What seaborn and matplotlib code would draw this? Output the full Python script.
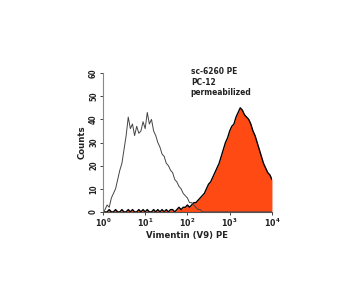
import numpy as np
import matplotlib
matplotlib.use("Agg")
import matplotlib.pyplot as plt
import seaborn as sns
import pandas as pd
from matplotlib import font_manager

# log10 channel positions (decades)
decades = [round(i * 0.05, 2) for i in range(81)]

# isotype control (open histogram)
control_counts = [0, 1, 3, 2, 6, 8, 10, 14, 18, 21,
                  27, 33, 41, 36, 38, 33, 37, 34, 35, 39,
                  36, 43, 38, 40, 35, 33, 30, 28, 25, 24,
                  21, 20, 18, 17, 14, 13, 11, 10, 8, 7,
                  6, 4, 4, 3, 2, 1, 1, 0, 0, 0,
                  0, 0, 0, 0, 0, 0, 0, 0, 0, 0,
                  0, 0, 0, 0, 0, 0, 0, 0, 0, 0,
                  0, 0, 0, 0, 0, 0, 0, 0, 0, 0, 0]

# sc-6260 PE stained (filled histogram)
stained_counts = [0, 0, 0, 1, 0, 0, 1, 0, 0, 1,
                  0, 0, 1, 0, 1, 0, 0, 1, 0, 1,
                  0, 1, 0, 0, 1, 0, 1, 0, 1, 0,
                  1, 0, 1, 1, 0, 1, 2, 1, 2, 2,
                  3, 2, 3, 4, 4, 5, 6, 7, 8, 10,
                  12, 13, 15, 17, 19, 21, 24, 27, 30, 32,
                  35, 37, 38, 41, 43, 45, 44, 42, 41, 40,
                  38, 35, 33, 30, 27, 24, 21, 19, 17, 16, 14]

x_ticks = [1, 10, 100, 1000, 10000]
x_tick_labels = ["10$^0$", "10$^1$", "10$^2$", "10$^3$", "10$^4$"]
y_ticks = [0, 10, 20, 30, 40, 50, 60]

sns.set_theme(style="white")
names = {f.name for f in font_manager.fontManager.ttflist}
fam = 'Liberation Sans Narrow' if 'Liberation Sans Narrow' in names else 'DejaVu Sans'
plt.rcParams['font.family'] = [fam, 'DejaVu Sans']
plt.rcParams['font.stretch'] = 'condensed'
plt.rcParams['mathtext.fontset'] = 'custom'
plt.rcParams['mathtext.rm'] = fam + ':bold'
plt.rcParams['mathtext.default'] = 'rm'

df = pd.DataFrame({"x": [10 ** d for d in decades],
                   "control": control_counts,
                   "stained": stained_counts})

fig = plt.figure(figsize=(3.5, 3.01), dpi=100)
ax = fig.add_axes([0.294, 0.296, 0.483, 0.461])

ax.fill_between(df["x"], df["stained"], color="#ff4a14", linewidth=0)
sns.lineplot(data=df, x="x", y="stained", ax=ax, color="black", linewidth=1.0)
sns.lineplot(data=df, x="x", y="control", ax=ax, color="#444444", linewidth=0.7)

ax.set_xscale("log")
ax.set_xlim(1, 10000)
ax.set_ylim(0, 60)
ax.set_xticks(x_ticks)
ax.set_xticklabels(x_tick_labels, fontsize=6.3, fontweight="bold", color="#222222")
ax.xaxis.set_minor_locator(matplotlib.ticker.NullLocator())
ax.set_yticks(y_ticks)
ax.set_yticklabels([str(v) for v in y_ticks], fontsize=5.5, rotation=90, va="center",
                   fontweight="bold", color="#222222")
ax.set_xlabel("Vimentin (V9) PE", fontsize=6.8, labelpad=1, fontweight="bold", color="#222222")
ax.set_ylabel("Counts", fontsize=6.8, labelpad=2, fontweight="bold", color="#222222")
ax.tick_params(axis="both", which="major", length=2, width=0.6, pad=1.5, left=True, bottom=True)
for s in ["top", "right"]:
    ax.spines[s].set_visible(False)
ax.spines["left"].set_color("#888888")
ax.spines["left"].set_linewidth(0.8)
ax.spines["bottom"].set_color("#555555")
ax.spines["bottom"].set_linewidth(0.8)

ax.text(0.52, 1.045, "sc-6260 PE\nPC-12\npermeabilized", transform=ax.transAxes,
        fontsize=6.0, va="top", ha="left", linespacing=1.25, fontweight="bold",
        color="#222222")

fig.savefig("out.png", dpi=100)
